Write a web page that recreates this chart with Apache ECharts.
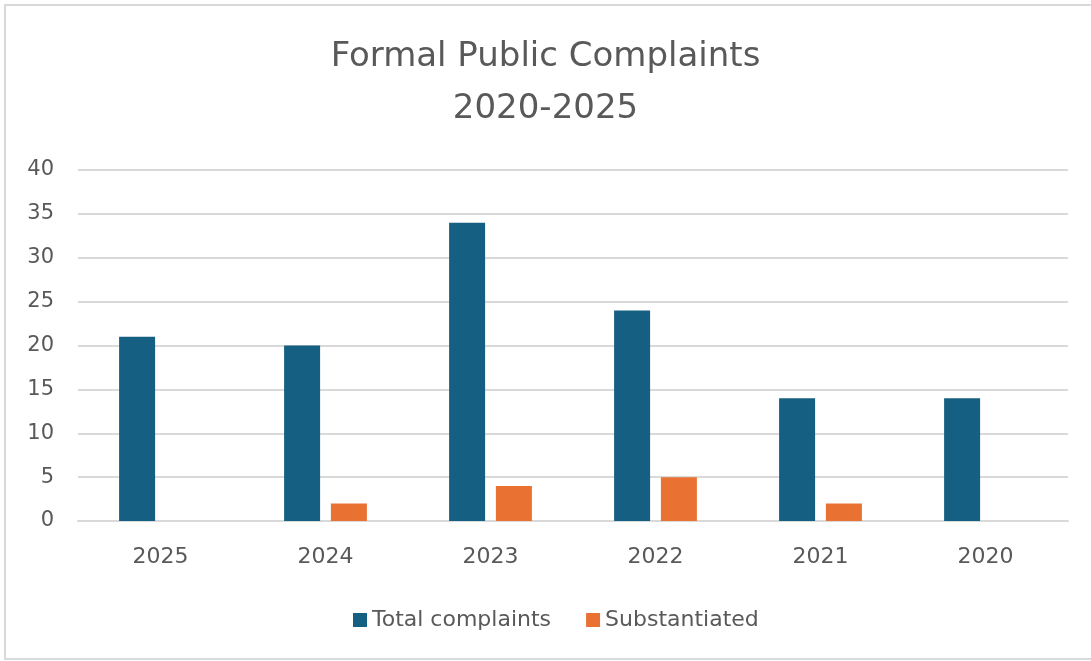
<!DOCTYPE html>
<html>
<head>
<meta charset="utf-8">
<script src="https://cdn.jsdelivr.net/npm/echarts@6/dist/echarts.min.js"></script>
<style>
html,body{margin:0;padding:0;background:#fff;}
#chart{width:1091px;height:661px;}
</style>
</head>
<body>
<div id="chart"></div>
<script>
const categories = ['2025', '2024', '2023', '2022', '2021', '2020'];
const totalComplaints = [21, 20, 34, 24, 14, 14];
const substantiated = [0, 2, 4, 5, 2, 0];
const yTicks = { min: 0, max: 40, interval: 5 };

const FONT = 'DejaVu Sans, sans-serif';
const chart = echarts.init(document.getElementById('chart'), null, { renderer: 'canvas' });
chart.setOption({
  backgroundColor: '#ffffff',
  animation: false,
  title: {
    text: 'Formal Public Complaints\n2020-2025',
    left: 'center',
    top: 26,
    textStyle: {
      fontFamily: FONT,
      fontWeight: 'normal',
      fontSize: 34,
      color: '#595959',
      lineHeight: 52
    }
  },
  graphic: [{
    type: 'rect',
    shape: { x: 5, y: 5, width: 1100, height: 654 },
    style: { fill: 'none', stroke: '#d9d9d9', lineWidth: 2 },
    silent: true,
    z: -1
  }],
  legend: {
    top: 604,
    left: 348,
    itemWidth: 14,
    itemHeight: 14,
    itemGap: 35,
    itemTextGap: 12,
    icon: 'rect',
    textStyle: { fontFamily: FONT, fontSize: 22, color: '#595959' },
    data: ['Total complaints', 'Substantiated']
  },
  grid: { left: 78, right: 23, top: 170, bottom: 140, containLabel: false },
  xAxis: {
    type: 'category',
    data: categories,
    axisLine: { show: true, lineStyle: { color: '#d9d9d9', width: 2 } },
    axisTick: { show: false },
    axisLabel: { fontFamily: FONT, fontSize: 22, color: '#595959', margin: 25 }
  },
  yAxis: {
    type: 'value',
    min: yTicks.min,
    max: yTicks.max,
    interval: yTicks.interval,
    axisLine: { show: false },
    axisTick: { show: false },
    splitLine: { lineStyle: { color: '#d9d9d9', width: 2 } },
    axisLabel: { fontFamily: FONT, fontSize: 21, color: '#595959', margin: 24 }
  },
  series: [
    {
      name: 'Total complaints',
      type: 'bar',
      data: totalComplaints,
      barWidth: 36,
      barGap: '30%',
      itemStyle: { color: '#156082' }
    },
    {
      name: 'Substantiated',
      type: 'bar',
      data: substantiated,
      barWidth: 36,
      itemStyle: { color: '#E97132' }
    }
  ]
});
</script>
</body>
</html>
